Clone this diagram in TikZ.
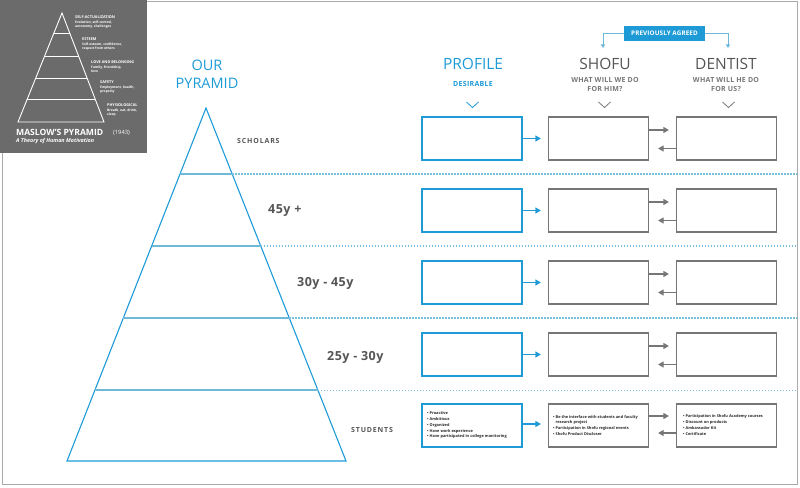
\documentclass[tikz,border=0pt]{standalone}
\usepackage{fontspec}
\setmainfont{Open Sans}
\usetikzlibrary{arrows.meta,calc}
\definecolor{pblue}{RGB}{30,155,215}
\definecolor{lblue}{RGB}{110,185,218}
\definecolor{dblue}{RGB}{120,192,222}
\definecolor{boxgray}{RGB}{118,118,118}
\definecolor{txtgray}{RGB}{85,85,85}
\definecolor{mgray}{RGB}{107,107,107}
\definecolor{framegray}{RGB}{170,170,170}
\begin{document}
\begin{tikzpicture}[x=1pt,y=-1pt,
  pbox/.style={draw=pblue, line width=1.2pt, minimum width=100pt, minimum height=43pt, inner sep=0pt},
  gbox/.style={draw=boxgray, line width=1.2pt, minimum width=100pt, minimum height=43pt, inner sep=0pt},
  parrow/.style={draw=pblue, line width=1.2pt, -{Triangle[length=5.5pt,width=6pt]}, shorten >=7pt},
  garrow/.style={draw=boxgray, line width=1.2pt, -{Triangle[length=5.5pt,width=6pt]}, shorten >=7pt},
  chev/.style={line width=0.8pt},
  rowlab/.style={font=\fontsize{12.5}{14}\selectfont\bfseries\addfontfeatures{LetterSpace=4}, text=txtgray, inner sep=0pt, anchor=west},
  smlab/.style={font=\fontsize{7}{8}\selectfont\bfseries\addfontfeatures{LetterSpace=12}, text=txtgray, inner sep=0pt, anchor=west},
  bigh/.style={font=\fontsize{15.5}{18}\selectfont, inner sep=0pt},
  subh/.style={font=\fontsize{7}{9}\selectfont\bfseries\addfontfeatures{LetterSpace=4}, inner sep=0pt, align=center},
  items/.style={font=\fontsize{3.9}{5.8}\selectfont\bfseries, text=black!85, inner sep=0pt, anchor=north west, align=left},
  mtitle/.style={font=\fontsize{3.8}{4.5}\selectfont\bfseries, text=white, inner sep=0pt, anchor=west},
  msub/.style={font=\fontsize{3.3}{4.2}\selectfont\bfseries, text=white, inner sep=0pt, anchor=north west, align=left},
  divsolid/.style={draw=lblue, line width=1.5pt},
  divdot/.style={draw=dblue, line width=1.1pt, dash pattern=on 1.4pt off 1.6pt}
]
\useasboundingbox (0,0) rectangle (800,487);
% outer frame
\draw[framegray, line width=1pt] (2.5,2) rectangle (797,484);

% ---------- Maslow inset ----------
\fill[mgray] (0,0) rectangle (147,153);
\coordinate (ma) at (62,13);
\coordinate (mbl) at (18,122);
\coordinate (mbr) at (104,122);
\draw[white, line width=0.9pt, line join=miter] (ma) -- (mbl) -- (mbr) -- cycle;
\foreach \t in {0.1835,0.3945,0.5963,0.789} {
  \draw[white, line width=0.9pt] ($(ma)!\t!(mbl)$) -- ($(ma)!\t!(mbr)$);
}
\node[mtitle] (m1) at (75,17) {SELF-ACTUALIZATION};
\node[msub] (m1s) at (75,21) {Evolution, self-control,\\autonomy, challenges};
\node[mtitle] (m2) at (82,39) {ESTEEM};
\node[msub] (m2s) at (82,42.5) {Self-esteem, confidence,\\respect from others};
\node[mtitle] (m3) at (91,62) {LOVE AND BELONGING};
\node[msub] (m3s) at (91,65.5) {Family, friendship,\\love};
\node[mtitle] (m4) at (100,82) {SAFETY};
\node[msub] (m4s) at (100,86) {Employment, health,\\property};
\node[mtitle] (m5) at (107,105) {PHYSIOLOGICAL};
\node[msub] (m5s) at (107,108.5) {Breath, eat, drink,\\sleep};
\node[font=\fontsize{8.6}{10}\selectfont\bfseries, text=white, inner sep=0pt, anchor=west] (mt) at (16,132) {MASLOW'S PYRAMID};
\node[font=\fontsize{5.8}{7}\selectfont, text=white, inner sep=0pt, anchor=west] (my) at (113,133) {(1943)};
\node[font=\fontsize{5.4}{7}\selectfont\bfseries\itshape, text=white, inner sep=0pt, anchor=west] (ms) at (16,141) {A Theory of Human Motivation};

% ---------- our pyramid ----------
\node[font=\fontsize{14.5}{18}\selectfont, text=pblue, align=center, inner sep=0pt] (ourp) at (207,74) {OUR\\PYRAMID};
\coordinate (pa) at (206,108);
\coordinate (pbl) at (67,461);
\coordinate (pbr) at (346,461);
\draw[pblue, line width=1.1pt, line join=miter] (pa) -- (pbl) -- (pbr) -- cycle;
\foreach \t/\n in {0.187/1,0.391/2,0.595/3,0.799/4} {
  \coordinate (dl\n) at ($(pa)!\t!(pbl)$);
  \coordinate (dr\n) at ($(pa)!\t!(pbr)$);
  \coordinate (de\n) at (797,0 |- dr\n);
  \draw[divsolid] (dl\n) -- (dr\n);
  \draw[divdot] (dr\n) -- (de\n);
}

% row labels
\node[smlab] (lab1) at (237,141) {SCHOLARS};
\node[rowlab] (lab2) at (268,211) {45y +};
\node[rowlab] (lab3) at (297,283) {30y - 45y};
\node[rowlab] (lab4) at (327,357) {25y - 30y};
\node[smlab] (lab5) at (351,430) {STUDENTS};

% ---------- headers ----------
\node[bigh, text=pblue] (hp) at (473,64) {PROFILE};
\node[subh, text=pblue] (hps) at (473,84) {DESIRABLE};
\node[bigh, text=txtgray] (hs) at (605,64) {SHOFU};
\node[subh, text=boxgray] (hss) at (605,84.5) {WHAT WILL WE DO\\FOR HIM?};
\node[bigh, text=txtgray] (hd) at (726,64) {DENTIST};
\node[subh, text=boxgray] (hds) at (726,84.5) {WHAT WILL HE DO\\FOR US?};

\node[fill=pblue, text=white, font=\fontsize{6.3}{7}\selectfont\bfseries\addfontfeatures{LetterSpace=2}, minimum width=81pt, minimum height=15pt, inner sep=0pt] (agreed) at (664.5,33.5) {PREVIOUSLY AGREED};
\coordinate (agl) at (603,48);
\coordinate (agr) at (728,48);
\draw[lblue, line width=1pt, -{Triangle[length=3.5pt,width=4pt]}] (agreed.west) -| (agl);
\draw[lblue, line width=1pt, -{Triangle[length=3.5pt,width=4pt]}] (agreed.east) -| (agr);

% chevrons
\draw[chev, pblue] (466.5,102) -- (472.5,107.5) -- (478.5,102);
\draw[chev, boxgray] (598.5,102) -- (604.5,107.5) -- (610.5,102);
\draw[chev, boxgray] (722.5,102) -- (728.5,107.5) -- (734.5,102);

% ---------- boxes ----------
\foreach \n/\y in {1/138.5,2/210.5,3/282.5,4/354.5,5/425.5} {
  \node[pbox] (p\n) at (472,\y) {};
  \node[gbox] (s\n) at (598.5,\y) {};
  \node[gbox] (d\n) at (726.5,\y) {};
}
\foreach \n in {1,2,3,4} {
  \draw[parrow] (p\n.east) -- (s\n.west);
  \draw[garrow] ([yshift=8.5pt]s\n.east) -- ([yshift=8.5pt]d\n.west);
  \draw[garrow, shorten >=9pt] ([yshift=-10pt]d\n.west) -- ([yshift=-10pt]s\n.east);
}
\draw[parrow] ([yshift=1.5pt]p5.east) -- ([yshift=1.5pt]s5.west);
\draw[garrow] ([yshift=9.5pt]s5.east) -- ([yshift=9.5pt]d5.west);
\draw[garrow, shorten >=9pt] ([yshift=-7.5pt]d5.west) -- ([yshift=-7.5pt]s5.east);

% bottom row texts
\node[items] (p5t) at (427,411.5) {• Proactive\\• Ambitious\\• Organized\\• Have work experience\\• Have participated in college monitoring};
\node[items] (s5t) at (553,415) {• Be the interface with students and faculty\\\phantom{• }research project\\• Participation in Shofu regional events\\• Shofu Product Discloser};
\node[items] (d5t) at (683,414.5) {• Participation in Shofu Academy courses\\• Discount on products\\• Ambassador Kit\\• Certificate};
\end{tikzpicture}
\end{document}
